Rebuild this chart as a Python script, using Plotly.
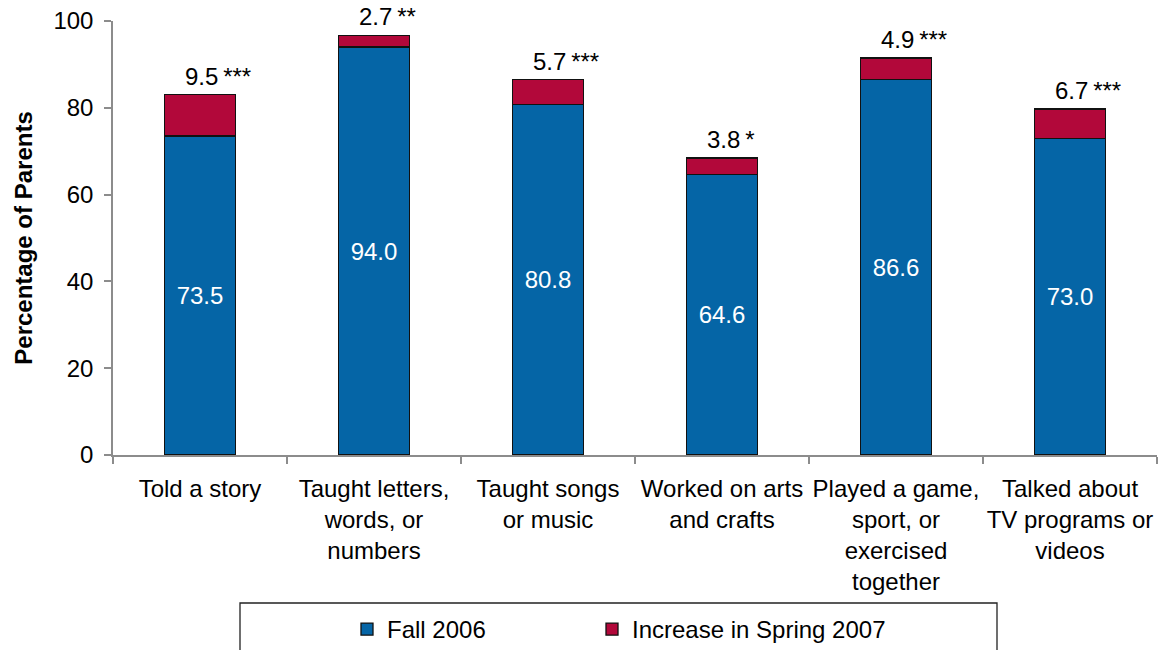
import plotly.graph_objects as go

categories = ["Told a story", "Taught letters,<br>words, or<br>numbers", "Taught songs<br>or music",
              "Worked on arts<br>and crafts", "Played a game,<br>sport, or<br>exercised<br>together",
              "Talked about<br>TV programs or<br>videos"]
fall_2006 = [73.5, 94.0, 80.8, 64.6, 86.6, 73.0]
increase_spring_2007 = [9.5, 2.7, 5.7, 3.8, 4.9, 6.7]
significance = ["***", "**", "***", "*", "***", "***"]
y_ticks = [0, 20, 40, 60, 80, 100]

W, H = 1165, 650
L, R, T, B = 113, 8, 21, 195
pw = W - L - R
ph = H - T - B

def px_x(px):
    return (px - L) / pw

def px_y(py):
    return (H - B - py) / ph

FONT = "Liberation Sans, Arial, sans-serif"
BLUE = "#0565A6"
RED = "#B2083A"
FS = 24

fig = go.Figure()
fig.add_trace(go.Bar(
    x=categories, y=fall_2006, name="Fall 2006", legend="legend",
    marker=dict(color=BLUE, line=dict(color="#111111", width=1.3)),
    text=[f"{v:.1f}" for v in fall_2006], textposition="inside",
    insidetextanchor="middle", textangle=0,
    textfont=dict(color="white", size=FS, family=FONT),
))
fig.add_trace(go.Bar(
    x=categories, y=increase_spring_2007, name="Increase in Spring 2007", legend="legend2",
    marker=dict(color=RED, line=dict(color="#111111", width=1.3)),
    textposition="none",
))

for c, f, inc, s in zip(categories, fall_2006, increase_spring_2007, significance):
    fig.add_annotation(x=c, y=f + inc, text=f"{inc:.1f}\u2009{s}", showarrow=False,
                       xanchor="left", yanchor="bottom", yshift=3, xshift=-17,
                       font=dict(size=FS, color="black", family=FONT))

# legend frame
fig.add_shape(type="rect", xref="paper", yref="paper",
              x0=px_x(240), x1=px_x(997), y0=px_y(603), y1=px_y(660),
              line=dict(color="#222222", width=1.3), fillcolor="rgba(0,0,0,0)")

legend_common = dict(orientation="h", xanchor="left", yanchor="top",
                     font=dict(size=FS, family=FONT), bgcolor="rgba(0,0,0,0)", borderwidth=0)

fig.update_layout(
    width=W, height=H,
    margin=dict(l=L, r=R, t=T, b=B, pad=0, autoexpand=False),
    barmode="stack", bargap=0.595,
    plot_bgcolor="white", paper_bgcolor="white",
    font=dict(family=FONT, size=FS, color="black"),
    showlegend=True,
    legend=dict(x=px_x(347), y=px_y(607), **legend_common),
    legend2=dict(x=px_x(592), y=px_y(607), **legend_common),
    xaxis=dict(showline=True, linecolor="#8c8c8c", linewidth=1.5, ticks="outside",
               tickson="boundaries", ticklen=7, tickcolor="#8c8c8c", tickwidth=1.5,
               tickfont=dict(size=FS, family=FONT), showgrid=False, automargin=False,
               tickangle=0, ticklabelstandoff=11),
    yaxis=dict(range=[0, 100], tickvals=y_ticks, showline=True, linecolor="#8c8c8c",
               linewidth=1.5, ticks="outside", ticklen=7, tickcolor="#8c8c8c", tickwidth=1.5,
               tickfont=dict(size=FS, family=FONT), showgrid=False, zeroline=False,
               automargin=False, ticklabelstandoff=6,
               title=dict(text="<b>Percentage of Parents</b>", font=dict(size=24, family=FONT),
                          standoff=14)),
    uniformtext=dict(mode=False),
)

fig.write_html("out.html", config={"displayModeBar": False},
               post_script="document.body.style.margin='0';document.body.style.overflow='hidden';")
